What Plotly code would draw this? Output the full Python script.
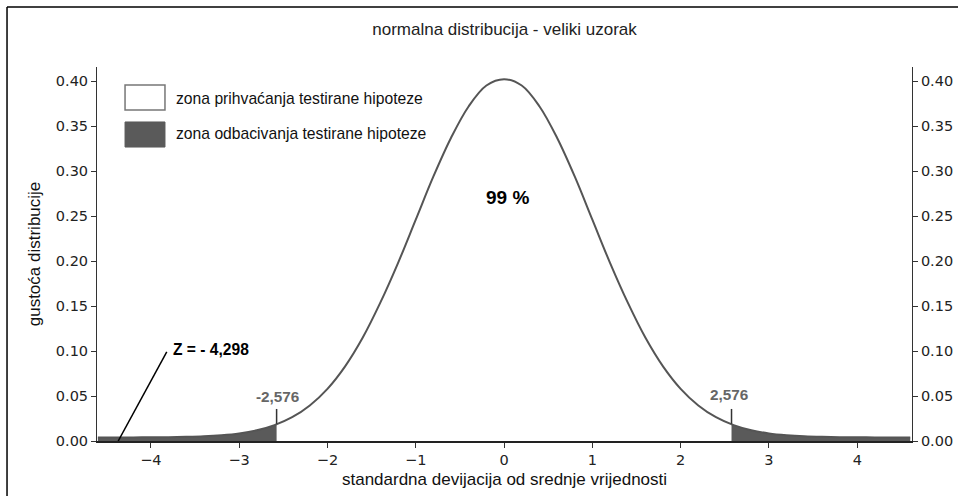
import plotly.graph_objects as go

# ---- data ----
x_curve = [-4.6, -4.4, -4.2, -4.0, -3.8, -3.6, -3.4, -3.2, -3.0, -2.8, -2.6, -2.4, -2.2, -2.0,
           -1.8, -1.6, -1.4, -1.2, -1.0, -0.8, -0.6, -0.4, -0.2, 0.0,
           0.2, 0.4, 0.6, 0.8, 1.0, 1.2, 1.4, 1.6, 1.8, 2.0, 2.2, 2.4, 2.6, 2.8,
           3.0, 3.2, 3.4, 3.6, 3.8, 4.0, 4.2, 4.4, 4.6]
y_curve = [0.004, 0.004, 0.004, 0.0041, 0.0043, 0.0046, 0.0052, 0.0064, 0.0084, 0.0119, 0.0176,
           0.0264, 0.0395, 0.058, 0.083, 0.115, 0.154, 0.198, 0.246, 0.294, 0.337, 0.372, 0.395, 0.402,
           0.395, 0.372, 0.337, 0.294, 0.246, 0.198, 0.154, 0.115, 0.083, 0.058, 0.0395, 0.0264,
           0.0176, 0.0119, 0.0084, 0.0064, 0.0052, 0.0046, 0.0043, 0.0041, 0.004, 0.004, 0.004]

x_tail_left = [-4.6, -4.4, -4.2, -4.0, -3.8, -3.6, -3.4, -3.2, -3.0, -2.8, -2.6, -2.576]
y_tail_left = [0.004, 0.004, 0.004, 0.0041, 0.0043, 0.0046, 0.0052, 0.0064, 0.0084, 0.0119, 0.0176, 0.019]
x_tail_right = [2.576, 2.6, 2.8, 3.0, 3.2, 3.4, 3.6, 3.8, 4.0, 4.2, 4.4, 4.6]
y_tail_right = [0.019, 0.0176, 0.0119, 0.0084, 0.0064, 0.0052, 0.0046, 0.0043, 0.0041, 0.004, 0.004, 0.004]

critical = [-2.576, 2.576]
critical_labels = ["-2,576", "2,576"]
marker_bottom = 0.019
marker_top = 0.0356

z_label = "Z = - 4,298"
z_pointer_x = [-4.37, -3.82]
z_pointer_y = [0.0, 0.099]

center_label = "99 %"
x_ticks = [-4, -3, -2, -1, 0, 1, 2, 3, 4]
y_ticks = [0.00, 0.05, 0.10, 0.15, 0.20, 0.25, 0.30, 0.35, 0.40]

legend_labels = ["zona prihvaćanja testirane hipoteze", "zona odbacivanja testirane hipoteze"]

title = "normalna distribucija - veliki uzorak"
x_title = "standardna devijacija od srednje vrijednosti"
y_title = "gustoća distribucije"

# ---- figure ----
FILL = "#5a5a5a"
CURVE = "#555555"
AX = "#333333"
TICKFONT = dict(family="DejaVu Sans", size=14.5, color="#222222")
ARIAL = "Liberation Sans, Arial, sans-serif"

fig = go.Figure()

for xs, ys in [(x_tail_left, y_tail_left), (x_tail_right, y_tail_right)]:
    fig.add_trace(go.Scatter(x=xs, y=ys, mode="lines", fill="tozeroy", fillcolor=FILL,
                             line=dict(width=0, color=FILL, shape="spline"),
                             showlegend=False, hoverinfo="skip"))

fig.add_trace(go.Scatter(x=x_curve, y=y_curve, mode="lines",
                         line=dict(color=CURVE, width=2, shape="spline"),
                         showlegend=False, hoverinfo="skip"))

for xc in critical:
    fig.add_trace(go.Scatter(x=[xc, xc], y=[marker_bottom, marker_top], mode="lines",
                             line=dict(color=AX, width=1.5), showlegend=False, hoverinfo="skip"))

fig.add_trace(go.Scatter(x=z_pointer_x, y=z_pointer_y, mode="lines",
                         line=dict(color="black", width=1.5), showlegend=False, hoverinfo="skip"))

# invisible trace for the right-hand axis
fig.add_trace(go.Scatter(x=x_curve, y=y_curve, yaxis="y2", mode="lines", opacity=0,
                         showlegend=False, hoverinfo="skip"))

# annotations
fig.add_annotation(x=-2.564, y=0.050, text="<b>%s</b>" % critical_labels[0], showarrow=False,
                   font=dict(family=ARIAL, size=15.3, color="#666666"), xanchor="center", yanchor="middle")
fig.add_annotation(x=2.546, y=0.052, text="<b>%s</b>" % critical_labels[1], showarrow=False,
                   font=dict(family=ARIAL, size=15.3, color="#666666"), xanchor="center", yanchor="middle")
fig.add_annotation(x=-3.77, y=0.102, text="<b>%s</b>" % z_label, showarrow=False,
                   font=dict(family=ARIAL, size=15.6, color="black"), xanchor="left", yanchor="middle")
fig.add_annotation(x=0.04, y=0.271, text="<b>%s</b>" % center_label, showarrow=False,
                   font=dict(family=ARIAL, size=19, color="black"), xanchor="center", yanchor="middle")

# legend-like boxes
fig.add_shape(type="rect", xref="paper", yref="paper", x0=0.0344, x1=0.0834, y0=0.885, y1=0.952,
              line=dict(color="#777777", width=1.5), fillcolor="white")
fig.add_shape(type="rect", xref="paper", yref="paper", x0=0.0344, x1=0.0834, y0=0.786, y1=0.853,
              line=dict(color=FILL, width=1), fillcolor=FILL)
fig.add_annotation(xref="paper", yref="paper", x=0.0945, y=0.917, text=legend_labels[0],
                   showarrow=False, xanchor="left", yanchor="middle",
                   font=dict(family=ARIAL, size=15.7, color="#111111"))
fig.add_annotation(xref="paper", yref="paper", x=0.0945, y=0.821, text=legend_labels[1],
                   showarrow=False, xanchor="left", yanchor="middle",
                   font=dict(family=ARIAL, size=15.7, color="#111111"))

# outer frame (top and left edges visible)
fig.add_shape(type="line", xref="paper", yref="paper", x0=-0.1104, x1=1.07, y0=1.1604, y1=1.1604,
              line=dict(color="black", width=1.5))
fig.add_shape(type="line", xref="paper", yref="paper", x0=-0.1104, x1=-0.1104, y0=1.1604, y1=-0.16,
              line=dict(color="black", width=1.5))

yaxis_common = dict(range=[0, 0.4156], tickvals=y_ticks, tickformat=".2f", showgrid=False,
                    zeroline=False, showline=True, linecolor=AX, linewidth=1, ticks="outside",
                    ticklen=5, tickcolor=AX, tickfont=TICKFONT, automargin=False)

fig.update_layout(
    width=958, height=496,
    margin=dict(l=97, r=46, t=67, b=55, autoexpand=False),
    paper_bgcolor="white", plot_bgcolor="white",
    showlegend=False,
    title=dict(text=title, x=0.5, xref="paper", y=1 - 29 / 496, yanchor="middle",
               font=dict(family=ARIAL, size=17, color="#222222")),
    xaxis=dict(range=[-4.61, 4.62], tickvals=x_ticks, showgrid=False, zeroline=False,
               showline=True, linecolor="#222222", linewidth=2, ticks="outside", ticklen=5,
               tickcolor=AX, tickfont=TICKFONT, automargin=False,
               title=dict(text=x_title, standoff=6, font=dict(family=ARIAL, size=17, color="#111111"))),
    yaxis=dict(**yaxis_common, side="left",
               title=dict(text=y_title, standoff=10, font=dict(family=ARIAL, size=17, color="#111111"))),
    yaxis2=dict(**yaxis_common, side="right", overlaying="y", anchor="x"),
)

fig.write_html("out.html", config={"displayModeBar": False},
               post_script="document.body.style.margin='0';document.body.style.overflow='hidden';")
